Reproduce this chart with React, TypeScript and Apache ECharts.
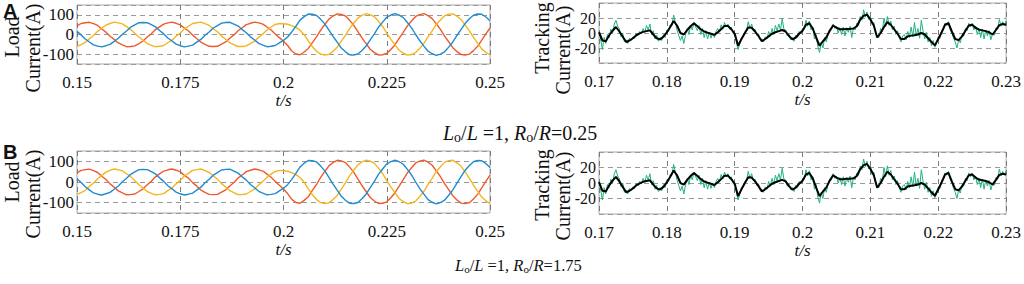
import React, { useEffect, useRef } from "react";
import * as echarts from "echarts";

// ---- Load current (A), sampled every 1 ms from t = 0.15 s ----
const loadStart = 0.15;
const loadStep = 0.001;
const loadBlue = [
  16, -2, -23, -38, -53, -59, -63, -57, -50, -35,
  -19, 1, 18, 37, 49, 60, 61, 60, 50, 39,
  20, 3, -18, -33, -49, -57, -63, -59, -54, -39,
  -25, -4, 13, 33, 45, 58, 61, 62, 53, 43,
  25, 9, -12, -28, -45, -54, -62, -60, -56, -43,
  -30, -13, 13, 42, 73, 91, 104, 103, 97, 77,
  54, 22, -10, -39, -69, -88, -103, -104, -99, -81,
  -59, -27, 3, 37, 63, 88, 99, 106, 98, 86,
  61, 34, 0, -32, -59, -85, -98, -106, -100, -88,
  -64, -38, -5, 26, 57, 80, 98, 104, 103, 89,
  70,
];
const loadRed = [
  44, 56, 60, 62, 55, 46, 28, 12, -9, -25,
  -43, -53, -62, -61, -58, -46, -33, -13, 4, 25,
  39, 53, 59, 63, 57, 49, 33, 18, -3, -20,
  -39, -50, -60, -61, -60, -49, -38, -19, -2, 19,
  34, 50, 57, 63, 59, 53, 38, 23, 3, -16,
  -34, -56, -84, -99, -103, -89, -71, -41, -12, 22,
  51, 78, 94, 105, 102, 94, 72, 48, 15, -17,
  -46, -75, -92, -104, -103, -96, -76, -52, -20, 11,
  44, 69, 92, 101, 106, 96, 81, 54, 26, -8,
  -37, -67, -87, -102, -104, -100, -82, -60, -29, 3,
  33,
];
const loadYellow = [
  -60, -51, -40, -22, -5, 16, 32, 48, 56, 63,
  59, 54, 40, 26, 6, -13, -29, -46, -55, -62,
  -60, -56, -42, -29, -9, 8, 29, 42, 56, 60,
  63, 55, 46, 29, 14, -8, -24, -42, -52, -61,
  -61, -58, -46, -34, -14, 3, 23, 38, 51, 56,
  55, 52, 45, 36, 22, -1, -33, -62, -85, -100,
  -104, -101, -85, -65, -34, -4, 30, 57, 83, 97,
  106, 101, 90, 67, 41, 7, -25, -53, -80, -95,
  -105, -102, -92, -70, -45, -12, 18, 51, 74, 95,
  103, 105, 93, 76, 48, 19, -15, -44, -73, -91,
  -103,
];

// ---- Tracking current (A), from t = 0.17 s ----
const trackStart = 0.17;
const trackRefStep = 0.0005;
const trackRef = [
  1, -10, -11, -3, 3, 8, 2, -5, -12, -10,
  -7, -3, -0.5, 1.5, 2.5, 3.5, -2, -7, -8.5, -5,
  1, 8, 16, 10, 0, -2, 4, 9, 13, 9,
  5, 2, 0.5, -1, -2.5, 1, 5, 9.5, 9.5, 5,
  -1, -17, -8, 0, 7.5, 7, 2, -4, -11, -8,
  -4.5, -1, 1, 2.5, 4, 2, -4, -8.5, -6, -1,
  3, 11, 13, 6, -6, -17, -11, -6, 3, 10,
  7, 5, 5, 5.5, 5.5, 6, 9, 18, 23, 24.5,
  18, 10, -6, 0, 8, 14.5, 11, 5, -1, -8,
  -8, -4.5, -3.5, -3, -2, 0, -2, -7, -12, -16.5,
  -8, 1, 11, 13, 2, -8, -9.5, -4.5, 3, 10,
  11, 7, 4.5, 3.5, 2.5, 1, -2, 4, 10.5, 12,
  11,
];
const trackMeasStep = 0.00025;
const trackMeas = [
  2, -9, -22, -6, -14, -2, -6, 5, 0, 12,
  17, 9, 6, -5, 0, -12, -9, -14, -7, -10,
  -5, -7, 0, -3, 2, -1, 6, 1, 10, 4,
  12, -2, 3, -8, -3, -11, -6, -10, -2, -6,
  4, 2, 11, 10, 24, 14, 4, -3, -10, -4,
  -14, -3, 6, -2, 10, 4, 14, 8, 3, 10,
  -2, 6, -6, 3, -8, 1, -7, 0, -6, 2,
  6, 1, 11, 5, 14, 8, 12, 5, 8, 0,
  -3, -12, -22, -14, -6, -5, 2, 3, 15, 6,
  12, 3, 5, -3, -1, -9, -8, -12, -5, -8,
  2, -4, 6, -2, 10, 3, 12, 4, 19, 5,
  4, -4, -1, -9, -6, -11, -3, -6, 2, -1,
  6, 5, 17, 9, 16, 4, 8, -8, -2, -18,
  -26, -12, -20, -6, -12, -1, 5, 4, 12, 6,
  9, 0, 7, -2, 8, -4, 7, 1, 9, -6,
  7, 4, 13, 10, 22, 17, 31, 21, 28, 18,
  22, 11, 14, -1, -4, -6, 6, 2, 20, 8,
  22, 10, 16, 4, 9, -2, 3, -6, -12, -4,
  -2, -9, 2, -6, 8, -5, 14, -4, 6, -7,
  17, 3, -8, 1, -12, -6, -17, -10, -19, -14,
  -5, -7, 3, 4, 13, 10, 15, 5, 0, -7,
  -12, -20, -9, -13, -2, -4, 6, 3, 13, 8,
  13, 4, 9, -2, 6, -6, 5, -8, 4, -4,
  3, -9, -1, -3, 7, 5, 18, 9, 15, 10,
  16,
];

const loadXTicks = { min: 0.15, max: 0.25, interval: 0.025 };
const trackXTicks = { min: 0.17, max: 0.23, interval: 0.01 };

const SERIF = "'Liberation Serif', 'Times New Roman', serif";
const SANS = "'Liberation Sans', Arial, sans-serif";
const C_BLUE = "#1f8bd0";
const C_RED = "#f0592b";
const C_YEL = "#f5b51f";
const C_GREEN = "#1fb37c";

const toPairs = (arr: number[], start: number, step: number) =>
  arr.map((v, i) => [+(start + i * step).toFixed(6), v]);

const fmt = (v: number) => String(+v.toFixed(3));

function xAxisFor(gridIndex: number, t: { min: number; max: number; interval: number }) {
  return {
    type: "value",
    gridIndex,
    min: t.min,
    max: t.max,
    interval: t.interval,
    name: "t/s",
    nameLocation: "middle",
    nameGap: 18,
    nameTextStyle: { fontFamily: SERIF, fontStyle: "italic", fontSize: 17, color: "#111" },
    axisLine: { show: false },
    axisTick: { show: false },
    axisLabel: { fontFamily: SERIF, fontSize: 17, color: "#111", margin: 10, formatter: fmt },
    splitLine: { show: true, lineStyle: { color: "#7a7a7a", type: [5, 4], width: 1 } },
  };
}

function yAxisLoad(gridIndex: number) {
  return {
    type: "value",
    gridIndex,
    min: -150,
    max: 150,
    splitNumber: 3,
    axisLine: { show: false },
    axisTick: { show: false },
    axisLabel: {
      fontFamily: SERIF, fontSize: 17, color: "#111", margin: 3,
      showMinLabel: false, showMaxLabel: false,
    },
    splitLine: { show: true, lineStyle: { color: "#9a9a9a", type: [5, 4], width: 1 } },
  };
}

function yAxisTrack(gridIndex: number) {
  return {
    type: "value",
    gridIndex,
    min: -40,
    max: 40,
    interval: 20,
    axisLine: { show: false },
    axisTick: { show: false },
    axisLabel: {
      fontFamily: SERIF, fontSize: 16, color: "#111", margin: 3,
      showMinLabel: false, showMaxLabel: false,
    },
    splitLine: { show: true, lineStyle: { color: "#9a9a9a", type: [5, 4], width: 1 } },
  };
}

function lineSeries(name: string, data: number[][], idx: number, color: string, width: number, z = 2) {
  return {
    type: "line",
    name,
    xAxisIndex: idx,
    yAxisIndex: idx,
    data,
    showSymbol: false,
    symbol: "none",
    lineStyle: { color, width },
    z,
    silent: true,
  };
}

function vText(x: number, y: number, text: string) {
  return {
    type: "text",
    x,
    y,
    rotation: Math.PI / 2,
    style: {
      text,
      fontFamily: SERIF,
      fontSize: 20,
      fill: "#111",
      align: "center",
      verticalAlign: "middle",
    },
  };
}

function caption(x: number, y: number, value: string, size: number) {
  const sub = Math.round(size * 0.68);
  const lh = size + 4;
  return {
    type: "text",
    x,
    y,
    style: {
      text: `{i|L}{s|o}{n|/}{i|L}{n| =1, }{i|R}{s|o}{n|/}{i|R}{n|=${value}}`,
      align: "left",
      verticalAlign: "middle",
      rich: {
        i: { fontFamily: SERIF, fontStyle: "italic", fontSize: size, fill: "#111", lineHeight: lh },
        n: { fontFamily: SERIF, fontSize: size, fill: "#111", lineHeight: lh },
        s: { fontFamily: SERIF, fontSize: sub, fill: "#111", lineHeight: lh, padding: [Math.round(size * 0.45), 0, 0, 0] },
      },
    },
  };
}

export default function App() {
  const ref = useRef<HTMLDivElement>(null);
  useEffect(() => {
    if (!ref.current) return;
    const chart = echarts.init(ref.current, undefined, { renderer: "svg" });
    const blue = toPairs(loadBlue, loadStart, loadStep);
    const red = toPairs(loadRed, loadStart, loadStep);
    const yel = toPairs(loadYellow, loadStart, loadStep);
    const refLine = toPairs(trackRef, trackStart, trackRefStep);
    const meas = toPairs(trackMeas, trackStart, trackMeasStep);
    const gridStyle = { show: true, borderColor: "#a8a8a8", borderWidth: 1, backgroundColor: "#fff" };
    chart.setOption({
      animation: false,
      backgroundColor: "#fff",
      grid: [
        { left: 77, top: 5, width: 413, height: 59, ...gridStyle },
        { left: 599, top: 3, width: 415, height: 60, ...gridStyle },
        { left: 77, top: 151, width: 413, height: 62, ...gridStyle },
        { left: 599, top: 152, width: 415, height: 62, ...gridStyle },
      ],
      xAxis: [
        xAxisFor(0, loadXTicks),
        xAxisFor(1, trackXTicks),
        xAxisFor(2, loadXTicks),
        xAxisFor(3, trackXTicks),
      ],
      yAxis: [yAxisLoad(0), yAxisTrack(1), yAxisLoad(2), yAxisTrack(3)],
      series: [
        lineSeries("Load ia", red, 0, C_RED, 1.4),
        lineSeries("Load ib", yel, 0, C_YEL, 1.4),
        lineSeries("Load ic", blue, 0, C_BLUE, 1.4),
        lineSeries("Measured", meas, 1, C_GREEN, 1, 2),
        lineSeries("Reference", refLine, 1, "#000", 2, 3),
        lineSeries("Load ia", red, 2, C_RED, 1.4),
        lineSeries("Load ib", yel, 2, C_YEL, 1.4),
        lineSeries("Load ic", blue, 2, C_BLUE, 1.4),
        lineSeries("Measured", meas, 3, C_GREEN, 1, 2),
        lineSeries("Reference", refLine, 3, "#000", 2, 3),
      ],
      graphic: [
        { type: "text", x: 3, y: 1, style: { text: "A", fontFamily: SANS, fontWeight: "bold", fontSize: 20, fill: "#111" } },
        { type: "text", x: 3, y: 142, style: { text: "B", fontFamily: SANS, fontWeight: "bold", fontSize: 20, fill: "#111" } },
        vText(12, 37, "Load"),
        vText(33, 48, "Current(A)"),
        vText(542, 38, "Tracking"),
        vText(563, 50, "Current(A)"),
        vText(12, 182, "Load"),
        vText(33, 194, "Current(A)"),
        vText(542, 185, "Tracking"),
        vText(563, 196, "Current(A)"),
        caption(443, 133, "0.25", 20),
        caption(455, 265, "1.75", 16.5),
      ],
    });
    return () => chart.dispose();
  }, []);
  return (
    <div
      ref={ref}
      style={{ position: "fixed", left: 0, top: 0, width: 1024, height: 284, background: "#fff" }}
    />
  );
}
